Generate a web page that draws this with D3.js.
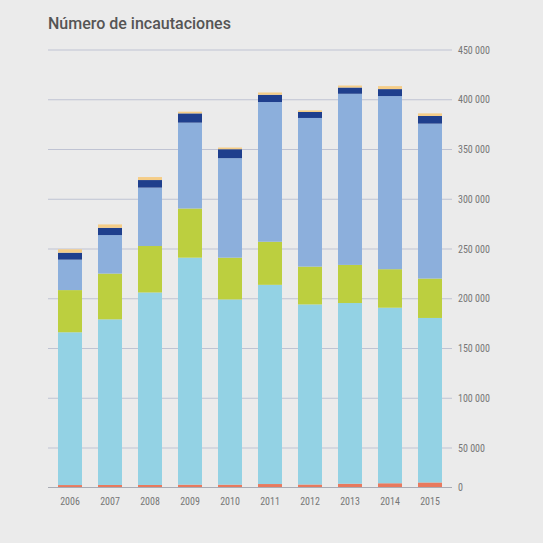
<!DOCTYPE html>
<html>
<head>
<meta charset="utf-8">
<script src="https://cdn.jsdelivr.net/npm/d3@7"></script>
<style>
  html, body { margin: 0; padding: 0; background: #ebebeb; }
  #wrapper svg { display: block; }
  .tick-label { font-family: "Liberation Sans Narrow", "Roboto Condensed", "Roboto", sans-serif; fill: #777; font-size: 10px; }
  .title { font-family: "Roboto", "Inter", sans-serif; font-weight: 500; fill: #555; font-size: 16px; }
</style>
</head>
<body>
<div id="wrapper"></div>
<script>
// data (values in units of seizures)
const years = ["2006", "2007", "2008", "2009", "2010", "2011", "2012", "2013", "2014", "2015"]
const seriesKeys = ["rojo", "celeste", "verde", "azul", "azulOscuro", "amarillo"]
const rojo       = [2500, 2600, 2600, 3000, 3000, 3800, 3200, 4200, 4800, 5800]
const celeste    = [163800, 176700, 203700, 238300, 196300, 210200, 191100, 191500, 186200, 174900]
const verde      = [42400, 46000, 46700, 49400, 42000, 43300, 38000, 38300, 38700, 39600]
const azul       = [30600, 38700, 58700, 86300, 100000, 140400, 149400, 172000, 174000, 155700]
const azulOscuro = [7000, 7300, 7600, 9300, 9000, 7300, 6000, 6300, 7000, 7700]
const amarillo   = [3400, 3400, 3000, 1700, 1700, 2300, 1600, 2000, 3000, 2600]
const yTicks = [0, 50000, 100000, 150000, 200000, 250000, 300000, 350000, 400000, 450000]

const colors = {
  rojo: "#e8795e",
  celeste: "#93d2e4",
  verde: "#bccf3f",
  azul: "#8cafdc",
  azulOscuro: "#1f3f8d",
  amarillo: "#f5cd87"
}

function drawChart() {
  const seriesValues = { rojo, celeste, verde, azul, azulOscuro, amarillo }
  const dataset = years.map((year, i) => {
    const row = { year }
    seriesKeys.forEach(k => { row[k] = seriesValues[k][i] })
    return row
  })

  const dimensions = { width: 543, height: 543 }

  const wrapper = d3.select("#wrapper")
    .append("svg")
      .attr("width", dimensions.width)
      .attr("height", dimensions.height)

  wrapper.append("rect")
    .attr("width", dimensions.width)
    .attr("height", dimensions.height)
    .attr("fill", "#ebebeb")

  // scales (the first interval is drawn shorter in the original)
  const xScale = d3.scaleBand()
    .domain(years)
    .range([50, 450])
    .paddingInner(0.4)
    .paddingOuter(0.2)

  const yScale = d3.scaleLinear()
    .domain([0, 50000, 450000])
    .range([487, 448, 50])

  // gridlines + right axis labels
  const grid = wrapper.append("g")
  grid.selectAll("line")
    .data(yTicks.filter(d => d > 0))
    .enter().append("line")
      .attr("x1", 48)
      .attr("x2", 452)
      .attr("y1", d => yScale(d))
      .attr("y2", d => yScale(d))
      .attr("stroke", "#bfc3d3")
      .attr("stroke-width", 1)

  const fmt = d => d3.format(",")(d).replace(/,/g, "\u2009")
  grid.selectAll("text")
    .data(yTicks)
    .enter().append("text")
      .attr("class", "tick-label")
      .attr("x", 458)
      .attr("y", d => yScale(d))
      .attr("dy", "0.35em")
      .text(d => d === 0 ? "0" : fmt(d).replace("\u2009", " "))

  // stacked bars
  const stack = d3.stack().keys(seriesKeys)
  const layers = stack(dataset)

  wrapper.append("g")
    .selectAll("g")
    .data(layers)
    .enter().append("g")
      .attr("fill", d => colors[d.key])
    .selectAll("rect")
    .data(d => d)
    .enter().append("rect")
      .attr("x", d => xScale(d.data.year))
      .attr("width", xScale.bandwidth())
      .attr("y", d => yScale(d[1]))
      .attr("height", d => yScale(d[0]) - yScale(d[1]))

  // baseline
  wrapper.append("line")
    .attr("x1", 48)
    .attr("x2", 452)
    .attr("y1", yScale(0) + 0.5)
    .attr("y2", yScale(0) + 0.5)
    .attr("stroke", "#a9acb5")
    .attr("stroke-width", 1)

  // x labels
  wrapper.append("g")
    .selectAll("text")
    .data(years)
    .enter().append("text")
      .attr("class", "tick-label")
      .attr("x", d => xScale(d) + xScale.bandwidth() / 2)
      .attr("y", 505)
      .attr("text-anchor", "middle")
      .text(d => d)

  // title
  wrapper.append("text")
    .attr("class", "title")
    .attr("x", 48)
    .attr("y", 29)
    .text("Número de incautaciones")
}

drawChart()
</script>
</body>
</html>
